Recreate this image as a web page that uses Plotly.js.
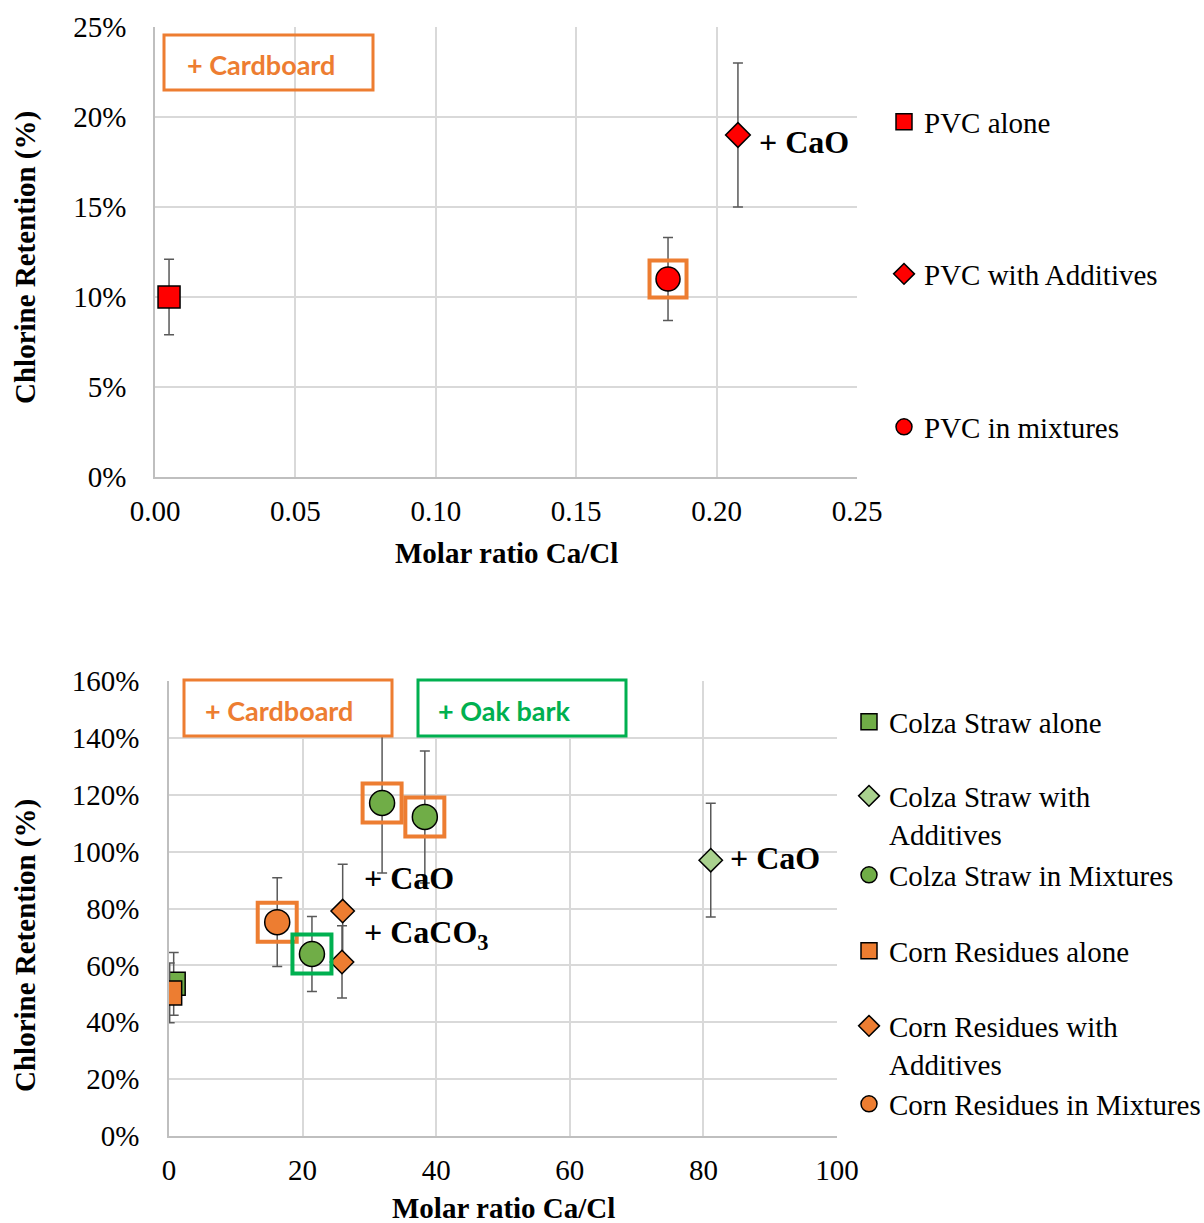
<!DOCTYPE html>
<html>
<head>
<meta charset="utf-8">
<script src="https://cdn.plot.ly/plotly-3.0.1.min.js"></script>
<style>html,body{margin:0;padding:0;background:#fff;}#chart{width:1204px;height:1223px;}</style>
</head>
<body>
<div id="chart"></div>
<script>
// ---------- Top chart data (PVC) ----------
var pvcAloneX = [0.005];
var pvcAloneY = [10.0];
var pvcAloneErr = [2.1];
var pvcAddX = [0.2076];
var pvcAddY = [19.0];
var pvcAddErr = [4.0];
var pvcMixX = [0.1827];
var pvcMixY = [11.0];
var pvcMixErr = [2.3];
var pvcMixPartner = ['Cardboard'];

// ---------- Bottom chart data (biomass) ----------
var colzaAloneX = [0.7];
var colzaAloneY = [53.5];
var colzaAloneErr = [11.0];
var colzaAddX = [81.1];
var colzaAddY = [97.0];
var colzaAddErr = [20.0];
var colzaMixX = [21.4, 31.9, 38.3];
var colzaMixY = [64.0, 117.1, 112.2];
var colzaMixErr = [13.2, 24.6, 23.2];
var colzaMixPartner = ['Oak bark', 'Cardboard', 'Cardboard'];
var cornAloneX = [0.1];
var cornAloneY = [50.3];
var cornAloneErr = [10.5];
var cornAddX = [26.0, 25.9];
var cornAddY = [79.1, 61.2];
var cornAddErr = [16.5, 12.7];
var cornMixX = [16.2];
var cornMixY = [75.2];
var cornMixErr = [15.6];
var cornMixPartner = ['Cardboard'];

var topXTicks = [0, 0.05, 0.10, 0.15, 0.20, 0.25];
var topYTicks = [0, 5, 10, 15, 20, 25];
var botXTicks = [0, 20, 40, 60, 80, 100];
var botYTicks = [0, 20, 40, 60, 80, 100, 120, 140, 160];

// ---------- styling ----------
var RED = '#FF0000', GREEN = '#70AD47', LGREEN = '#A9D18E', ORANGE = '#ED7D31', BOXGREEN = '#00B050';
var SERIF = 'Liberation Serif';
var SANS = 'Lato';
var W = 1204, H = 1223;
function px(x) { return x / W; }
function py(y) { return 1 - y / H; }

function errBar(arr) {
  return { type: 'data', array: arr, visible: true, color: '#595959', thickness: 1.5, width: 5 };
}
function pts(name, xs, ys, errs, symbol, size, color, xa, ya, leg) {
  return {
    type: 'scatter', mode: 'markers', name: name, x: xs, y: ys,
    xaxis: xa, yaxis: ya, legend: leg,
    error_y: errBar(errs),
    marker: { symbol: symbol, size: size, color: color, line: { color: '#000', width: 1.5 } },
    hoverinfo: 'x+y+name'
  };
}
function highlight(xs, ys, partners, which, color, size, xa, ya) {
  var hx = [], hy = [];
  for (var i = 0; i < xs.length; i++) { if (partners[i] === which) { hx.push(xs[i]); hy.push(ys[i]); } }
  return {
    type: 'scatter', mode: 'markers', x: hx, y: hy, xaxis: xa, yaxis: ya,
    showlegend: false, hoverinfo: 'skip',
    marker: { symbol: 'square-open', size: size, color: color, line: { color: color, width: 4 } }
  };
}

var traces = [
  pts('PVC alone', pvcAloneX, pvcAloneY, pvcAloneErr, 'square', 22, RED, 'x', 'y', 'legend'),
  pts('PVC with Additives', pvcAddX, pvcAddY, pvcAddErr, 'diamond', 19, RED, 'x', 'y', 'legend2'),
  pts('PVC in mixtures', pvcMixX, pvcMixY, pvcMixErr, 'circle', 24, RED, 'x', 'y', 'legend3'),
  highlight(pvcMixX, pvcMixY, pvcMixPartner, 'Cardboard', ORANGE, 37, 'x', 'y'),

  pts('Colza Straw alone', colzaAloneX, colzaAloneY, colzaAloneErr, 'square', 23, GREEN, 'x2', 'y2', 'legend4'),
  pts('Colza Straw with<br>Additives', colzaAddX, colzaAddY, colzaAddErr, 'diamond', 18, LGREEN, 'x2', 'y2', 'legend5'),
  pts('Colza Straw in Mixtures', colzaMixX, colzaMixY, colzaMixErr, 'circle', 25, GREEN, 'x2', 'y2', 'legend6'),
  pts('Corn Residues alone', cornAloneX, cornAloneY, cornAloneErr, 'square', 24, ORANGE, 'x2', 'y2', 'legend7'),
  pts('Corn Residues with<br>Additives', cornAddX, cornAddY, cornAddErr, 'diamond', 18, ORANGE, 'x2', 'y2', 'legend8'),
  pts('Corn Residues in Mixtures', cornMixX, cornMixY, cornMixErr, 'circle', 25, ORANGE, 'x2', 'y2', 'legend9'),
  highlight(colzaMixX, colzaMixY, colzaMixPartner, 'Cardboard', ORANGE, 39, 'x2', 'y2'),
  highlight(cornMixX, cornMixY, cornMixPartner, 'Cardboard', ORANGE, 39, 'x2', 'y2'),
  highlight(colzaMixX, colzaMixY, colzaMixPartner, 'Oak bark', BOXGREEN, 39, 'x2', 'y2')
];

var tickFont = { family: SERIF, size: 29, color: '#000' };
function axis(range, ticks, labels, dom, anchor, standoff) {
  return {
    domain: dom, anchor: anchor, range: range, tickmode: 'array', tickvals: ticks, ticktext: labels,
    showgrid: true, gridcolor: '#D9D9D9', gridwidth: 1.5, zeroline: false,
    showline: true, linecolor: '#BFBFBF', linewidth: 1.5, ticks: '', tickfont: tickFont,
    ticklabelstandoff: standoff, fixedrange: true, automargin: false
  };
}
function pct(v) { return v + '%'; }
function fix2(v) { return v.toFixed(2); }
function plain(v) { return String(v); }

var xa1 = axis([0, 0.25], topXTicks, topXTicks.map(fix2), [px(155), px(857)], 'y', 7);
var ya1 = axis([0, 25], topYTicks, topYTicks.map(pct), [py(477), py(27)], 'x', 21);
var xa2 = axis([0, 100], botXTicks, botXTicks.map(plain), [px(169), px(837)], 'y2', 7);
var ya2 = axis([0, 160], botYTicks, botYTicks.map(pct), [py(1136), py(681)], 'x2', 22);

function leg(xc, yc, valign) {
  return {
    x: px(xc - 24), y: py(yc), xanchor: 'left', yanchor: 'middle',
    font: { family: SERIF, size: 29, color: '#000' }, bgcolor: 'rgba(0,0,0,0)', borderwidth: 0,
    valign: valign || 'middle', itemclick: false, itemdoubleclick: false
  };
}

var titleFont = { family: SERIF, size: 29, color: '#000', weight: 'bold' };
var labelFont = { family: SERIF, size: 32, color: '#000', weight: 'bold' };
var boxFontO = { family: SANS, size: 27, color: ORANGE, weight: 'bold' };
var boxFontG = { family: SANS, size: 27, color: BOXGREEN, weight: 'bold' };

var annotations = [
  { xref: 'paper', yref: 'paper', x: px(506), y: py(553), text: 'Molar ratio Ca/Cl', showarrow: false, font: titleFont, xanchor: 'center', yanchor: 'middle' },
  { xref: 'paper', yref: 'paper', x: px(503), y: py(1208), text: 'Molar ratio Ca/Cl', showarrow: false, font: titleFont, xanchor: 'center', yanchor: 'middle' },
  { xref: 'paper', yref: 'paper', x: px(25), y: py(258), text: 'Chlorine Retention (%)', textangle: -90, showarrow: false, font: titleFont, xanchor: 'center', yanchor: 'middle' },
  { xref: 'paper', yref: 'paper', x: px(25), y: py(946), text: 'Chlorine Retention (%)', textangle: -90, showarrow: false, font: titleFont, xanchor: 'center', yanchor: 'middle' },

  { xref: 'x', yref: 'y', x: 0.2144, y: 18.6, text: '+ CaO', showarrow: false, font: labelFont, xanchor: 'left', yanchor: 'middle' },
  { xref: 'x2', yref: 'y2', x: 83.7, y: 97.7, text: '+ CaO', showarrow: false, font: labelFont, xanchor: 'left', yanchor: 'middle' },
  { xref: 'x2', yref: 'y2', x: 28.9, y: 90.7, text: '+ CaO', showarrow: false, font: labelFont, xanchor: 'left', yanchor: 'middle' },
  { xref: 'x2', yref: 'y2', x: 28.9, y: 70.7, text: '+ CaCO<sub>3</sub>', showarrow: false, font: labelFont, xanchor: 'left', yanchor: 'middle' },

  { xref: 'paper', yref: 'paper', x: px(185), y: py(65), text: '+ Cardboard', showarrow: false, font: boxFontO, xanchor: 'left', yanchor: 'middle' },
  { xref: 'paper', yref: 'paper', x: px(203), y: py(710), text: '+ Cardboard', showarrow: false, font: boxFontO, xanchor: 'left', yanchor: 'middle' },
  { xref: 'paper', yref: 'paper', x: px(436), y: py(710), text: '+ Oak bark', showarrow: false, font: boxFontG, xanchor: 'left', yanchor: 'middle' }
];

var shapes = [
  { type: 'rect', xref: 'paper', yref: 'paper', x0: px(164), x1: px(373), y0: py(90), y1: py(35), line: { color: ORANGE, width: 3 }, fillcolor: 'rgba(0,0,0,0)', layer: 'above' },
  { type: 'rect', xref: 'paper', yref: 'paper', x0: px(184), x1: px(392), y0: py(736), y1: py(680), line: { color: ORANGE, width: 3 }, fillcolor: '#FFFFFF', layer: 'above' },
  { type: 'rect', xref: 'paper', yref: 'paper', x0: px(418), x1: px(626), y0: py(736), y1: py(680), line: { color: BOXGREEN, width: 3 }, fillcolor: '#FFFFFF', layer: 'above' }
];

var layout = {
  width: W, height: H, margin: { l: 0, r: 0, t: 0, b: 0, pad: 0, autoexpand: false },
  paper_bgcolor: '#FFFFFF', plot_bgcolor: '#FFFFFF',
  font: { family: SERIF, color: '#000' },
  showlegend: true,
  xaxis: xa1, yaxis: ya1, xaxis2: xa2, yaxis2: ya2,
  legend: leg(908, 122), legend2: leg(908, 274), legend3: leg(908, 427),
  legend4: leg(873, 722), legend5: leg(873, 815, 'top'), legend6: leg(873, 875),
  legend7: leg(873, 951), legend8: leg(873, 1045, 'top'), legend9: leg(873, 1104),
  annotations: annotations, shapes: shapes,
  hovermode: 'closest'
};

Plotly.newPlot('chart', traces, layout, { displayModeBar: false, responsive: false });
</script>
</body>
</html>
